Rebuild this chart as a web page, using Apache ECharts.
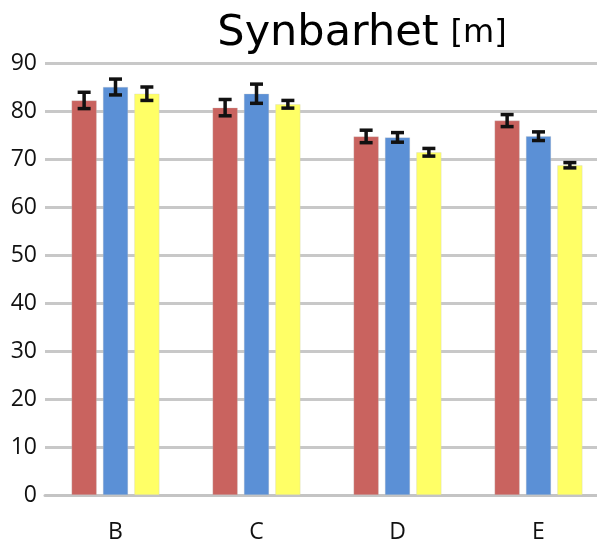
<!DOCTYPE html>
<html><head><meta charset="utf-8">
<script src="https://cdn.jsdelivr.net/npm/echarts@6/dist/echarts.min.js"></script>
<style>html,body{margin:0;padding:0;background:#fff}#c{width:597px;height:545px}</style>
</head><body><div id="c"></div>
<script>
const categories = ['B', 'C', 'D', 'E'];
const redValues = [82.2, 80.7, 74.7, 78.0];
const redErrors = [1.7, 1.7, 1.3, 1.25];
const blueValues = [85.0, 83.6, 74.5, 74.75];
const blueErrors = [1.65, 2.0, 1.0, 0.9];
const yellowValues = [83.6, 81.4, 71.4, 68.7];
const yellowErrors = [1.4, 0.8, 0.8, 0.55];
const yTicks = [0, 10, 20, 30, 40, 50, 60, 70, 80, 90];

const colors = ['#C9635F', '#5B90D6', '#FFFF66'];
const seriesVals = [redValues, blueValues, yellowValues];
const seriesErrs = [redErrors, blueErrors, yellowErrors];
const BAR_W = 0.178, GAP = 0.25;

const chart = echarts.init(document.getElementById('c'));
const series = [];
seriesVals.forEach((vals, i) => {
  series.push({
    type: 'bar', data: vals, barWidth: (BAR_W * 100) + '%', barGap: (GAP * 100) + '%',
    itemStyle: { color: colors[i], borderColor: 'rgba(200,200,200,0.6)', borderWidth: 0.5 },
    z: 2
  });
});
seriesVals.forEach((vals, i) => {
  series.push({
    type: 'custom',
    data: vals.map((v, j) => [j, v - seriesErrs[i][j], v + seriesErrs[i][j]]),
    z: 5,
    renderItem: function (params, api) {
      const band = api.size([1, 0])[0];
      const off = (i - 1) * band * BAR_W * (1 + GAP);
      const lo = api.coord([api.value(0), api.value(1)]);
      const hi = api.coord([api.value(0), api.value(2)]);
      const x = lo[0] + off;
      const cap = 6.5;
      const st = { stroke: '#111', lineWidth: 3.5 };
      return { type: 'group', children: [
        { type: 'line', shape: { x1: x, y1: lo[1], x2: x, y2: hi[1] }, style: st },
        { type: 'line', shape: { x1: x - cap, y1: lo[1], x2: x + cap, y2: lo[1] }, style: st },
        { type: 'line', shape: { x1: x - cap, y1: hi[1], x2: x + cap, y2: hi[1] }, style: st }
      ]};
    }
  });
});

chart.setOption({
  animation: false,
  title: {
    text: '{a|Synbarhet}{b|[m]}',
    left: 357, textAlign: 'center', top: 7,
    textStyle: { fontWeight: 'normal', rich: {
      a: { fontFamily: 'DejaVu Sans', fontSize: 43, fontWeight: 'normal', color: '#000', padding: [0, 12, 0, 0] },
      b: { fontFamily: 'DejaVu Sans', fontSize: 32, fontWeight: 'normal', color: '#000' }
    } }
  },
  grid: { left: 45, width: 564, top: 63, bottom: 50, outerBoundsMode: 'none', containLabel: false },
  xAxis: {
    type: 'category', data: categories,
    axisLine: { lineStyle: { color: '#c4c4c4', width: 3 } },
    axisTick: { show: false },
    axisLabel: { margin: 26, fontSize: 23, color: '#111', fontFamily: 'Open Sans' }
  },
  yAxis: {
    type: 'value', min: yTicks[0], max: yTicks[yTicks.length - 1], interval: 10,
    axisLine: { show: false }, axisTick: { show: false },
    axisLabel: { margin: 8, fontSize: 23, color: '#111', fontFamily: 'Open Sans' },
    splitLine: { lineStyle: { color: '#c8c8c8', width: 3 } }
  },
  series: series
});
</script></body></html>
